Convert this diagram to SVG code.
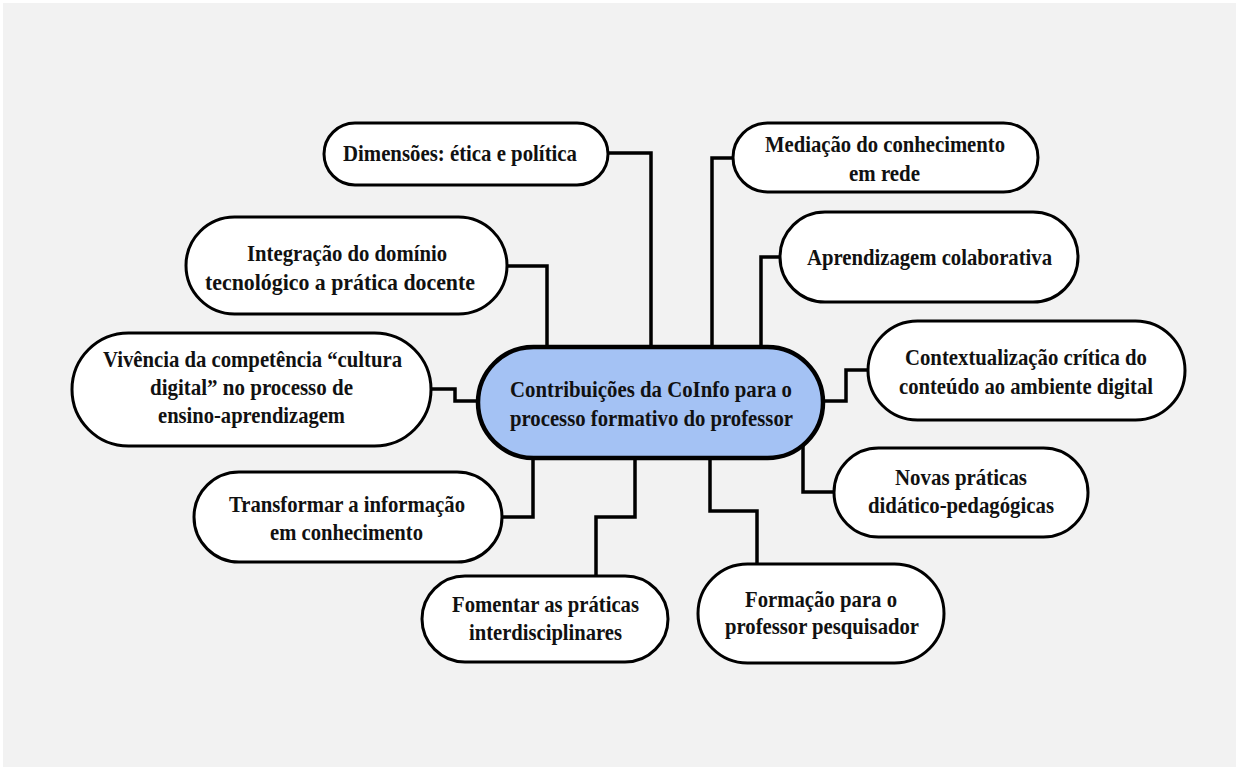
<svg xmlns="http://www.w3.org/2000/svg" width="1236" height="767" viewBox="0 0 1236 767">
<style>
.node{fill:#ffffff;stroke:#000000;stroke-width:3}
.center{fill:#a4c2f4;stroke:#000000;stroke-width:4.5}
.lbl{font-family:"Liberation Serif","Times New Roman",serif;font-weight:bold;font-size:23.5px;fill:#111111}
.conn{fill:none;stroke:#000000;stroke-width:3.5;stroke-linejoin:miter}
</style>
<rect x="0" y="0" width="1236" height="767" fill="#ffffff"/>
<rect x="3" y="3" width="1233" height="764" fill="#f2f2f2"/>
<g id="connectors">
<path class="conn" d="M608,153 H651 V347"/>
<path class="conn" d="M507,266 H547 V347"/>
<path class="conn" d="M733,158 H712 V347"/>
<path class="conn" d="M780,257 H761 V347"/>
<path class="conn" d="M431,389 H455 V401 H478"/>
<path class="conn" d="M823,401 H846 V370 H868"/>
<path class="conn" d="M803,444 V492 H834"/>
<path class="conn" d="M710,458 V511 H757 V564"/>
<path class="conn" d="M502,517 H533 V458"/>
<path class="conn" d="M635,458 V517 H596 V576"/>
</g>
<g id="n-dimensoes">
<rect class="node" x="324" y="123" width="284" height="62" rx="31"/>
<text class="lbl" x="343" y="161" textLength="234" lengthAdjust="spacingAndGlyphs">Dimensões: ética e política</text>
</g>
<g id="n-mediacao">
<rect class="node" x="733" y="123" width="305" height="69" rx="34.5"/>
<text class="lbl" x="765" y="152" textLength="240" lengthAdjust="spacingAndGlyphs">Mediação do conhecimento</text>
<text class="lbl" x="849" y="181" textLength="71" lengthAdjust="spacingAndGlyphs">em rede</text>
</g>
<g id="n-integracao">
<rect class="node" x="186" y="217" width="321" height="97" rx="48.5"/>
<text class="lbl" x="247" y="261" textLength="200" lengthAdjust="spacingAndGlyphs">Integração do domínio</text>
<text class="lbl" x="205" y="290" textLength="270" lengthAdjust="spacingAndGlyphs">tecnológico a prática docente</text>
</g>
<g id="n-aprendizagem">
<rect class="node" x="780" y="212" width="298" height="90" rx="45"/>
<text class="lbl" x="807" y="265" textLength="245" lengthAdjust="spacingAndGlyphs">Aprendizagem colaborativa</text>
</g>
<g id="n-vivencia">
<rect class="node" x="72" y="333" width="359" height="113" rx="56.5"/>
<text class="lbl" x="103" y="367" textLength="299" lengthAdjust="spacingAndGlyphs">Vivência da competência “cultura</text>
<text class="lbl" x="150" y="395" textLength="203" lengthAdjust="spacingAndGlyphs">digital” no processo de</text>
<text class="lbl" x="158" y="423" textLength="187" lengthAdjust="spacingAndGlyphs">ensino-aprendizagem</text>
</g>
<g id="n-center">
<rect class="center" x="478" y="347" width="345" height="111" rx="55.5"/>
<text class="lbl" x="510" y="397" textLength="282" lengthAdjust="spacingAndGlyphs">Contribuições da CoInfo para o</text>
<text class="lbl" x="510" y="426" textLength="283" lengthAdjust="spacingAndGlyphs">processo formativo do professor</text>
</g>
<g id="n-contextualizacao">
<rect class="node" x="868" y="321" width="317" height="99" rx="49.5"/>
<text class="lbl" x="905" y="365" textLength="242" lengthAdjust="spacingAndGlyphs">Contextualização crítica do</text>
<text class="lbl" x="899" y="394" textLength="254" lengthAdjust="spacingAndGlyphs">conteúdo ao ambiente digital</text>
</g>
<g id="n-transformar">
<rect class="node" x="194" y="472" width="308" height="90" rx="45"/>
<text class="lbl" x="229" y="512" textLength="236" lengthAdjust="spacingAndGlyphs">Transformar a informação</text>
<text class="lbl" x="270" y="540" textLength="153" lengthAdjust="spacingAndGlyphs">em conhecimento</text>
</g>
<g id="n-novas">
<rect class="node" x="834" y="448" width="254" height="89" rx="44.5"/>
<text class="lbl" x="895" y="485" textLength="132" lengthAdjust="spacingAndGlyphs">Novas práticas</text>
<text class="lbl" x="868" y="513" textLength="186" lengthAdjust="spacingAndGlyphs">didático-pedagógicas</text>
</g>
<g id="n-fomentar">
<rect class="node" x="422" y="576" width="246" height="86" rx="43"/>
<text class="lbl" x="452" y="612" textLength="187" lengthAdjust="spacingAndGlyphs">Fomentar as práticas</text>
<text class="lbl" x="469" y="640" textLength="153" lengthAdjust="spacingAndGlyphs">interdisciplinares</text>
</g>
<g id="n-formacao">
<rect class="node" x="698" y="564" width="246" height="99" rx="49.5"/>
<text class="lbl" x="745" y="607" textLength="152" lengthAdjust="spacingAndGlyphs">Formação para o</text>
<text class="lbl" x="725" y="634" textLength="194" lengthAdjust="spacingAndGlyphs">professor pesquisador</text>
</g>
</svg>
